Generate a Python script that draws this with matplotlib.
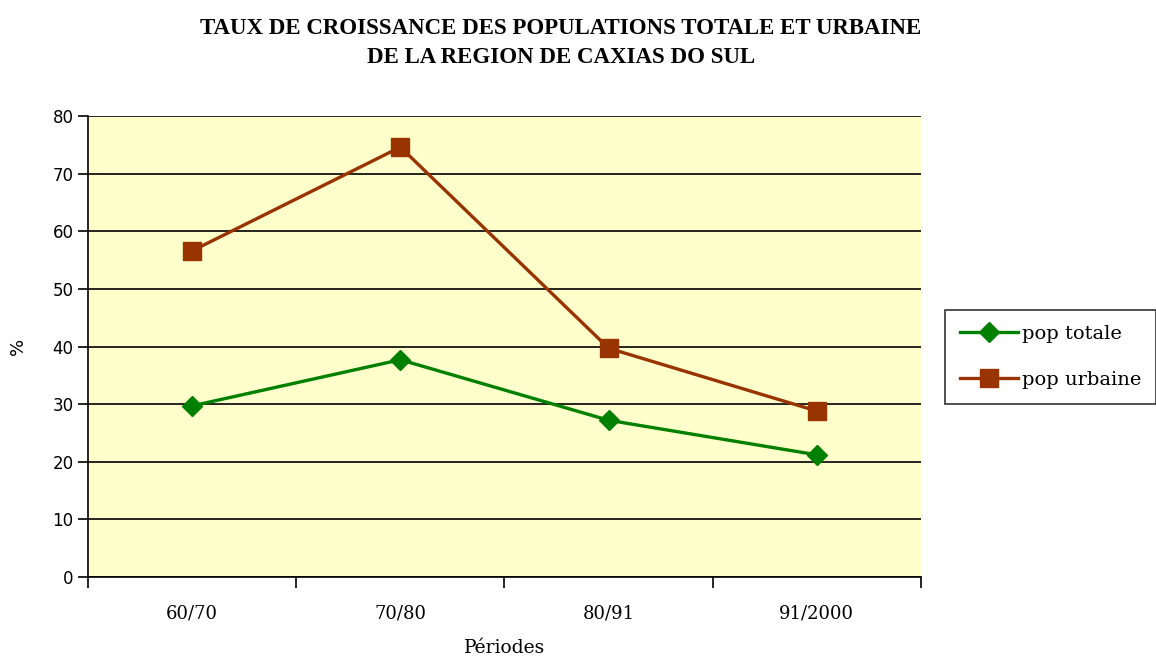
import matplotlib
matplotlib.use("Agg")
import matplotlib.pyplot as plt
import numpy as np

# --- data ---
periods = ["60/70", "70/80", "80/91", "91/2000"]
pop_totale = [29.7, 37.7, 27.2, 21.2]
pop_urbaine = [56.6, 74.6, 39.7, 28.8]

fig = plt.figure(figsize=(11.56, 6.59), dpi=100)
ax = fig.add_axes([0.0761, 0.1244, 0.7206, 0.6996])
ax.set_facecolor("#FFFFCC")

x = np.arange(len(periods))
ax.plot(x, pop_totale, color="#008000", lw=2.4, marker="D", ms=10,
        label="pop totale", zorder=3)
ax.plot(x, pop_urbaine, color="#993300", lw=2.4, marker="s", ms=13,
        label="pop urbaine", zorder=3)

ax.set_xlim(-0.5, len(periods) - 0.5)
ax.set_ylim(0, 80)
ax.set_yticks(range(0, 81, 10))
ax.yaxis.grid(True, color="black", lw=1.2)
ax.set_axisbelow(True)

ax.set_xticks(x)
ax.set_xticklabels(periods, family="DejaVu Serif", fontsize=13)
ax.set_xticks(np.arange(-0.5, len(periods)), minor=True)
ax.tick_params(axis="x", which="major", length=0, pad=20)
ax.tick_params(axis="x", which="minor", length=8, width=1.2, direction="out")
ax.tick_params(axis="y", length=7, width=1.2, direction="out", labelsize=12)

for side in ["top", "right"]:
    ax.spines[side].set_visible(False)
for side in ["left", "bottom"]:
    ax.spines[side].set_linewidth(1.2)

ax.set_xlabel("Périodes", family="DejaVu Serif", fontsize=13.5, labelpad=12)
ax.set_ylabel("%", fontsize=13, labelpad=18)

fig.text(0.485, 0.972, "TAUX DE CROISSANCE DES POPULATIONS TOTALE ET URBAINE\n"
         "DE LA REGION DE CAXIAS DO SUL", ha="center", va="top",
         family="Liberation Serif", fontweight="bold", fontsize=16.5,
         linespacing=1.45)

leg = ax.legend(loc="center left", bbox_to_anchor=(1.029, 0.477),
                frameon=True, fancybox=False, edgecolor="black",
                prop={"family": "DejaVu Serif", "size": 14},
                handlelength=3.0, borderpad=0.75, labelspacing=1.45,
                handletextpad=0.2, borderaxespad=0)
leg.get_frame().set_linewidth(1.2)

fig.savefig("out.png", dpi=100)
